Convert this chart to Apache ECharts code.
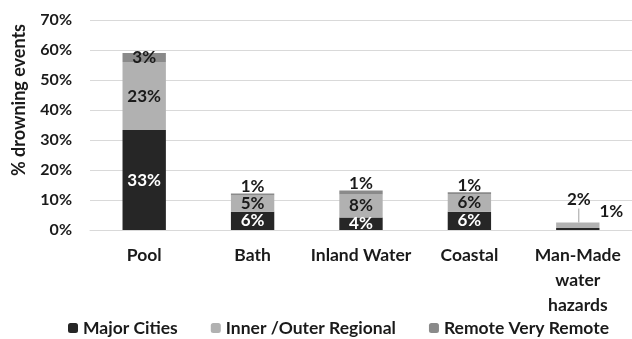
<!DOCTYPE html>
<html><head><meta charset="utf-8">
<script src="https://cdn.jsdelivr.net/npm/echarts@6/dist/echarts.min.js"></script>
<style>html,body{margin:0;padding:0;background:#fff}#c{width:632px;height:339px}</style>
</head><body><div id="c"></div>
<script>
const categories = ['Pool', 'Bath', 'Inland Water', 'Coastal', 'Man-Made\nwater\nhazards'];
const majorCities = [33.3, 6.1, 4.2, 6.1, 0.7];
const innerOuterRegional = [22.7, 5.4, 7.6, 5.9, 1.8];
const remoteVeryRemote = [3.0, 0.7, 1.4, 0.6, 0.0];
const yTicks = [0, 10, 20, 30, 40, 50, 60, 70];

const FONT = 'Lato';
const TXT = '#1a1a1a';
const lbl = (color) => ({
  show: true, position: 'inside', color: color, fontFamily: FONT, fontWeight: 'bold', fontSize: 17,
  formatter: p => Math.round(p.value) + '%'
});

const majorData = majorCities.map((v, i) => i === 4
  ? { value: v, label: { position: 'right', distance: 0, offset: [0, -17], color: TXT } } : v);
const innerData = innerOuterRegional.map((v, i) => i === 4
  ? { value: v, label: { position: 'top', distance: 2 }, labelLine: { show: true } } : v);
const remoteData = remoteVeryRemote.map((v, i) => i === 0 ? v
  : (i === 4 ? { value: v, label: { show: false } } : { value: v, label: { position: 'top', distance: -2 } }));

const chart = echarts.init(document.getElementById('c'), null, { renderer: 'canvas' });
chart.setOption({
  animation: false,
  grid: { left: 90, right: -2, top: 20, bottom: 109, containLabel: false },
  legend: {
    top: 314, left: 63, itemWidth: 10, itemHeight: 10, itemGap: 33,
    textStyle: { fontFamily: FONT, fontWeight: 'bold', fontSize: 17.5, color: TXT },
    data: ['Major Cities', 'Inner /Outer Regional', 'Remote Very Remote']
  },
  xAxis: {
    type: 'category', data: categories,
    axisLine: { lineStyle: { color: '#d9d9d9' } }, axisTick: { show: false },
    axisLabel: { fontFamily: FONT, fontWeight: 'bold', fontSize: 17.5, color: TXT, margin: 13, lineHeight: 25, interval: 0 }
  },
  yAxis: {
    type: 'value', min: 0, max: 70, interval: 10,
    axisLine: { show: false }, axisTick: { show: false },
    splitLine: { lineStyle: { color: '#d9d9d9' } },
    axisLabel: { fontFamily: FONT, fontWeight: 'bold', fontSize: 16, color: TXT, margin: 18,
      formatter: v => yTicks.includes(v) ? v + '%' : '' }
  },
  graphic: [{
    type: 'text', x: 19, y: 100, rotation: Math.PI / 2,
    style: { text: '% drowning events', fontFamily: FONT, fontWeight: 'bold', fontSize: 18, fill: TXT,
      textAlign: 'center', textVerticalAlign: 'middle' }
  }],
  series: [
    { name: 'Major Cities', type: 'bar', stack: 's', barWidth: '40%', data: majorData,
      itemStyle: { color: '#262626' }, label: lbl('#fff') },
    { name: 'Inner /Outer Regional', type: 'bar', stack: 's', data: innerData,
      itemStyle: { color: '#b1b1b1' }, label: lbl(TXT),
      labelLine: { lineStyle: { color: '#a0a0a0', width: 1 } },
      labelLayout: p => p.dataIndex === 4 ? { dx: 1, dy: -12 } : {} },
    { name: 'Remote Very Remote', type: 'bar', stack: 's', data: remoteData,
      itemStyle: { color: '#8a8a8a' }, label: lbl(TXT) }
  ]
});
</script></body></html>
